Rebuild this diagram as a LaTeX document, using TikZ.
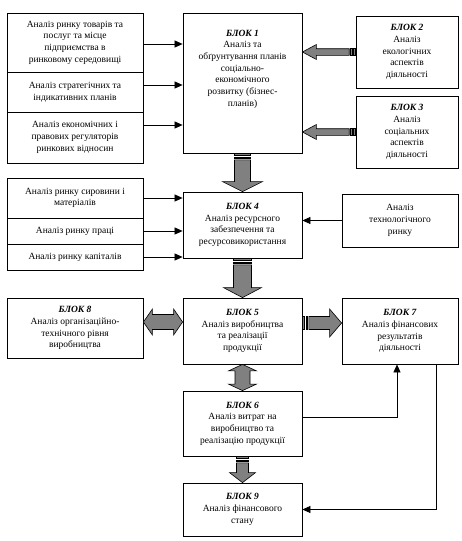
\documentclass[tikz,border=0pt]{standalone}
\usepackage{fontspec}
\setmainfont{Liberation Serif}
\usetikzlibrary{arrows.meta,calc}
\definecolor{agray}{RGB}{128,128,128}
\newcommand\blk[1]{\textbf{\textit{БЛОК #1}}}
\tikzset{
  box/.style={draw, line width=0.8pt, align=center, inner sep=0pt,
    font=\fontsize{9.5}{11.7}\selectfont},
  txt/.style={align=center, inner sep=0pt, font=\fontsize{9.5}{11.7}\selectfont},
  bigarr/.style={fill=agray, draw=black, line width=0.6pt, line join=miter},
  thinarr/.style={draw, line width=0.7pt, -{Triangle[length=8pt,width=7pt]}},
}
% striped arrow: #1 tail, #2 tip, #3 shaft half, #4 head half, #5 head length
\newcommand\stripearrow[5]{%
  \path let \p1=(#1), \p2=(#2), \n1={atan2(\y2-\y1,\x2-\x1)},
    \n2={veclen(\x2-\x1,\y2-\y1)} in \pgfextra{\xdef\arrang{\n1}\xdef\arrlen{\n2}};
  \begin{scope}[shift={(#1)}, rotate=\arrang]
    \filldraw[bigarr] (0pt,-#3pt) rectangle (2.2pt,#3pt);
    \filldraw[bigarr] (3.4pt,-#3pt) rectangle (5.2pt,#3pt);
    \filldraw[bigarr] (6.4pt,-#3pt) -- ({\arrlen-#5pt},-#3pt) -- ({\arrlen-#5pt},-#4pt)
      -- ({\arrlen},0pt) -- ({\arrlen-#5pt},#4pt) -- ({\arrlen-#5pt},#3pt)
      -- (6.4pt,#3pt) -- cycle;
  \end{scope}}
% double arrow: #1 end, #2 end, #3 shaft half, #4 head half, #5 head length
\newcommand\dblarrow[5]{%
  \path let \p1=(#1), \p2=(#2), \n1={atan2(\y2-\y1,\x2-\x1)},
    \n2={veclen(\x2-\x1,\y2-\y1)} in \pgfextra{\xdef\arrang{\n1}\xdef\arrlen{\n2}};
  \begin{scope}[shift={(#1)}, rotate=\arrang]
    \filldraw[bigarr] (0pt,0pt) -- (#5pt,#4pt) -- (#5pt,#3pt) -- ({\arrlen-#5pt},#3pt)
      -- ({\arrlen-#5pt},#4pt) -- ({\arrlen},0pt) -- ({\arrlen-#5pt},-#4pt)
      -- ({\arrlen-#5pt},-#3pt) -- (#5pt,-#3pt) -- (#5pt,-#4pt) -- cycle;
  \end{scope}}
\begin{document}
\begin{tikzpicture}[x=1pt,y=-1pt]
\useasboundingbox (0,0) rectangle (461,541);
% left group 1
\node[box, minimum width=136pt, minimum height=59pt] (L1) at (75,42.5)
  {Аналіз ринку товарів  та\\послуг та місце\\підприємства  в\\ринковому  середовищі};
\node[box, minimum width=136pt, minimum height=40pt] (L2) at (75,92)
  {Аналіз стратегічних  та\\індикативних  планів};
\node[box, minimum width=136pt, minimum height=51pt] (L3) at (75,137.5)
  {Аналіз економічних  і\\правових регуляторів\\ринкових відносин};
% block 1
\node[box, minimum width=119pt, minimum height=140pt] (B1) at (242.5,83) {};
\node[txt, anchor=north] (B1t) at ([yshift=-17pt]B1.north)
  {\blk{1}\\Аналіз та\\обґрунтування  планів\\соціально-\\економічного\\розвитку (бізнес-\\планів)};
% blocks 2,3
\node[box, minimum width=102pt, minimum height=72pt] (B2) at (407,52)
  {\blk{2}\\Аналіз\\екологічних\\аспектів\\діяльності};
\node[box, minimum width=102pt, minimum height=72pt] (B3) at (407,132)
  {\blk{3}\\Аналіз\\соціальних\\аспектів\\діяльності};
% left group 2
\node[box, minimum width=136pt, minimum height=40pt] (L4) at (75,198)
  {Аналіз ринку сировини  і\\матеріалів};
\node[box, minimum width=136pt, minimum height=26pt] (L5) at (75,231)
  {Аналіз ринку праці};
\node[box, minimum width=136pt, minimum height=26pt] (L6) at (75,257)
  {Аналіз ринку капіталів};
% block 4
\node[box, minimum width=119pt, minimum height=66pt] (B4) at (242.5,225)
  {\blk{4}\\Аналіз ресурсного\\забезпечення   та\\ресурсовикористання};
\node[box, minimum width=116pt, minimum height=53pt] (T) at (400,220.5)
  {Аналіз\\технологічного\\ринку};
% row 5
\node[box, minimum width=136pt, minimum height=60pt] (B8) at (75,328)
  {\blk{8}\\Аналіз організаційно-\\технічного рівня\\виробництва};
\node[box, minimum width=119pt, minimum height=66pt] (B5) at (242.5,331)
  {\blk{5}\\Аналіз виробництва\\та реалізації\\продукції};
\node[box, minimum width=116pt, minimum height=66pt] (B7) at (400,331)
  {\blk{7}\\Аналіз фінансових\\результатів\\діяльності};
\node[box, minimum width=119pt, minimum height=65pt] (B6) at (242.5,423.5)
  {\blk{6}\\Аналіз витрат  на\\виробництво  та\\реалізацію  продукції};
\node[box, minimum width=119pt, minimum height=53pt] (B9) at (242.5,509.5)
  {\blk{9}\\Аналіз фінансового\\стану};
% thin connectors
\draw[thinarr] ([yshift=-1.5pt]L1.east) -- ([yshift=-1.5pt]L1.east -| B1.west);
\draw[thinarr] ([yshift=7pt]L2.east) -- ([yshift=7pt]L2.east -| B1.west);
\draw[thinarr] ([yshift=12.5pt]L3.east) -- ([yshift=12.5pt]L3.east -| B1.west);
\draw[thinarr] (L4.east) -- (L4.east -| B4.west);
\draw[thinarr] (L5.east) -- (L5.east -| B4.west);
\draw[thinarr] (L6.east) -- (L6.east -| B4.west);
\draw[thinarr] (T.west) -- (T.west -| B4.east);
\draw[thinarr] ([yshift=6.5pt]B6.east) -| ([xshift=-3pt]B7.south);
\draw[thinarr] ([xshift=36pt]B7.south) |- (B9.east);
% big arrows
\stripearrow{B2.west}{B2.west -| B1.east}{3.3}{7.5}{14}
\stripearrow{B3.west}{B3.west -| B1.east}{3.3}{7.5}{14}
\stripearrow{B1.south}{B4.north}{8}{20}{10}
\stripearrow{B4.south}{B5.north}{9}{19}{10}
\stripearrow{$(B5.east)+(0,-8)$}{$(B5.east -| B7.west)+(0,-8)$}{6.5}{14}{12}
\stripearrow{B6.south}{B9.north}{6}{13}{10}
\dblarrow{$(B8.east)+(0,-6)$}{$(B8.east -| B5.west)+(0,-6)$}{7.5}{13}{9}
\dblarrow{B5.south}{B6.north}{7.5}{14}{6.5}
\end{tikzpicture}
\end{document}
